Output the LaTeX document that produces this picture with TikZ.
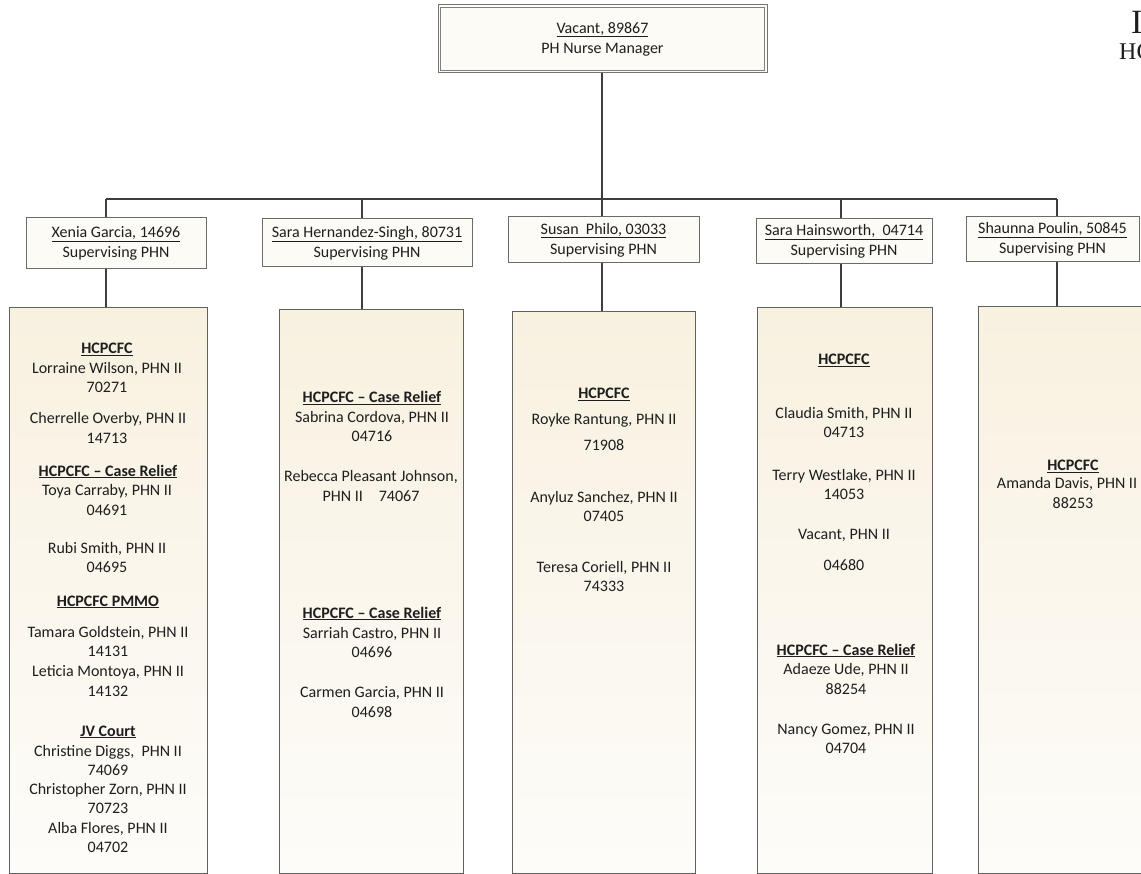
\documentclass[tikz,border=0pt]{standalone}
\usepackage{fontspec}
\setmainfont{Carlito}
\newfontfamily\titlefont{Liberation Serif}
\definecolor{creamtop}{HTML}{F8F1E0}
\definecolor{creambot}{HTML}{FDFCF9}
\definecolor{boxfill}{HTML}{FCFBF6}
\definecolor{inkc}{HTML}{1E1E1E}
\tikzset{
  conn/.style={draw=black!76, line width=1.8pt},
  supbox/.style={draw=black!58, line width=1pt, fill=boxfill, inner sep=0pt, align=center,
    text=inkc, font=\fontsize{16}{20}\selectfont},
  colbox/.style={draw=black!62, line width=1pt, top color=creamtop, bottom color=creambot, inner sep=0pt},
  entry/.style={inner sep=0pt, text=inkc, font=\fontsize{16}{19.5}\selectfont, text height=11.5pt, text depth=3.5pt},
  hdr/.style={entry, font=\fontsize{16}{19.5}\selectfont\bfseries}
}
\newcommand\entryline[4]{\node[entry] (#1) at (#2,#3) {#4};}
\newcommand\hdrline[4]{\node[hdr] (#1) at (#2,#3) {\underline{#4}};}
\begin{document}
\begin{tikzpicture}[x=1pt,y=-1pt]
\useasboundingbox (0,0) rectangle (1141,874);

% manager
\node[draw=black!55, line width=1pt, fill=boxfill, minimum width=329pt, minimum height=68pt,
  inner sep=0pt, align=center, text=inkc, font=\fontsize{16}{20}\selectfont] (mgr) at (602.5,39)
  {\underline{Vacant, 89867}\\PH Nurse Manager};
\draw[draw=black!50, line width=0.8pt] ([shift={(3,3)}]mgr.north west) rectangle ([shift={(-3,-3)}]mgr.south east);

% title (cut at the page edge, as in the reference)
\node[anchor=base west, inner sep=0pt, text=inkc, font=\titlefont\fontsize{34}{34}\selectfont] (title1) at (1131,34) {I};
\node[anchor=base west, inner sep=0pt, text=inkc, font=\titlefont\fontsize{24}{24}\selectfont] (title2) at (1119,60) {HC};

% bus coordinates
\coordinate (b1) at (106,199);
\coordinate (b2) at (362,199);
\coordinate (b3) at (602,199);
\coordinate (b4) at (841,199);
\coordinate (b5) at (1057,199);

% supervisors
\node[supbox, minimum width=180pt, minimum height=51pt] (s1) at (116,243.5) {\underline{Xenia Garcia, 14696}\\Supervising PHN};
\node[supbox, minimum width=210pt, minimum height=48pt] (s2) at (367,243) {\underline{Sara Hernandez-Singh, 80731}\\Supervising PHN};
\node[supbox, minimum width=191pt, minimum height=46pt] (s3) at (603.5,240) {\underline{Susan\ \ Philo, 03033}\\Supervising PHN};
\node[supbox, minimum width=176pt, minimum height=45pt] (s4) at (844,241.5) {\underline{Sara Hainsworth,\ \ 04714}\\Supervising PHN};
\node[supbox, minimum width=173pt, minimum height=45pt] (s5) at (1052.5,239.5) {\underline{Shaunna Poulin, 50845}\\Supervising PHN};

% columns
\node[colbox, minimum width=198pt, minimum height=565pt] (c1) at (108,590.5) {};
\node[colbox, minimum width=184pt, minimum height=563pt] (c2) at (371,591.5) {};
\node[colbox, minimum width=183pt, minimum height=561pt] (c3) at (603.5,592.5) {};
\node[colbox, minimum width=175pt, minimum height=565pt] (c4) at (844.5,590.5) {};
\node[colbox, minimum width=168pt, minimum height=566pt] (c5) at (1062,590) {};

% connectors
\draw[conn] (b1) -- (b5);
\draw[conn] (mgr.south -| b3) -- (b3);
\foreach \i in {1,...,5}{
  \draw[conn] (b\i) -- (b\i |- s\i.north);
  \draw[conn] (b\i |- s\i.south) -- (b\i |- c\i.north);
}

% column 1
\hdrline{a1}{107}{350}{HCPCFC}
\entryline{a2}{107}{370}{Lorraine Wilson, PHN II}
\entryline{a3}{107}{389}{70271}
\entryline{a4}{108}{420}{Cherrelle Overby, PHN II}
\entryline{a5}{107}{440}{14713}
\hdrline{a6}{108}{472}{HCPCFC – Case Relief}
\entryline{a7}{107}{492}{Toya Carraby, PHN II}
\entryline{a8}{107}{511}{04691}
\entryline{a9}{107}{549}{Rubi Smith, PHN II}
\entryline{a10}{107}{568}{04695}
\hdrline{a11}{108}{602}{HCPCFC PMMO}
\entryline{a12}{108}{633}{Tamara Goldstein, PHN II}
\entryline{a13}{108}{652}{14131}
\entryline{a14}{108}{672}{Leticia Montoya, PHN II}
\entryline{a15}{108}{692}{14132}
\hdrline{a16}{108}{732}{JV Court}
\entryline{a17}{108}{752}{Christine Diggs,\ \ PHN II}
\entryline{a18}{108}{771}{74069}
\entryline{a19}{108}{790}{Christopher Zorn, PHN II}
\entryline{a20}{108}{809}{70723}
\entryline{a21}{108}{829}{Alba Flores, PHN II}
\entryline{a22}{108}{848}{04702}

% column 2
\hdrline{d1}{372}{399}{HCPCFC – Case Relief}
\entryline{d2}{372}{419}{Sabrina Cordova, PHN II}
\entryline{d3}{372}{438}{04716}
\entryline{d4}{371}{478}{Rebecca Pleasant Johnson,}
\entryline{d5}{371}{497}{PHN II\quad 74067}
\hdrline{d6}{372}{614}{HCPCFC – Case Relief}
\entryline{d7}{372}{634}{Sarriah Castro, PHN II}
\entryline{d8}{372}{653}{04696}
\entryline{d9}{372}{693}{Carmen Garcia, PHN II}
\entryline{d10}{372}{713}{04698}

% column 3
\hdrline{e1}{604}{395}{HCPCFC}
\entryline{e2}{604}{421}{Royke Rantung, PHN II}
\entryline{e3}{604}{446}{71908}
\entryline{e4}{604}{498}{Anyluz Sanchez, PHN II}
\entryline{e5}{604}{517}{07405}
\entryline{e6}{604}{568}{Teresa Coriell, PHN II}
\entryline{e7}{604}{587}{74333}

% column 4
\hdrline{f1}{844}{361}{HCPCFC}
\entryline{f2}{844}{415}{Claudia Smith, PHN II}
\entryline{f3}{844}{434}{04713}
\entryline{f4}{844}{476}{Terry Westlake, PHN II}
\entryline{f5}{844}{496}{14053}
\entryline{f6}{844}{535}{Vacant, PHN II}
\entryline{f7}{844}{566}{04680}
\hdrline{f8}{846}{651}{HCPCFC – Case Relief}
\entryline{f9}{846}{670}{Adaeze Ude, PHN II}
\entryline{f10}{846}{690}{88254}
\entryline{f11}{846}{730}{Nancy Gomez, PHN II}
\entryline{f12}{846}{749}{04704}

% column 5
\hdrline{g1}{1073}{467}{HCPCFC}
\entryline{g2}{1067}{485}{Amanda Davis, PHN II}
\entryline{g3}{1073}{504}{88253}
\end{tikzpicture}
\end{document}
